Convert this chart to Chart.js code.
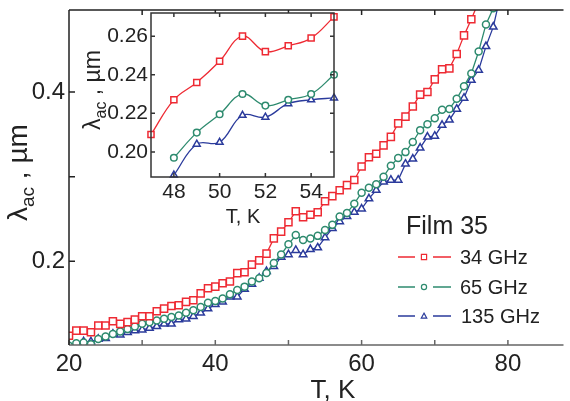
<!DOCTYPE html>
<html>
<head>
<meta charset="utf-8">
<script src="https://cdn.jsdelivr.net/npm/chart.js@4.4.0/dist/chart.umd.min.js"></script>
<style>
  html, body { margin: 0; padding: 0; background: #fff; }
  #wrap { position: relative; width: 570px; height: 401px; overflow: hidden; }
  #mainChart { position: absolute; left: 0; top: 0; }
  #insetChart { position: absolute; left: 60px; top: 0; }
</style>
</head>
<body>
<div id="wrap">
  <canvas id="mainChart" width="570" height="401"></canvas>
  <canvas id="insetChart" width="290" height="235"></canvas>
</div>
<script>
// ---- data ----
const temps = [20, 21, 22, 23, 24, 25, 26, 27, 28, 29, 30, 31, 32, 33, 34, 35, 36, 37, 38, 39,
               40, 41, 42, 43, 44, 45, 46, 47, 48, 49, 50, 51, 52, 53, 54, 55, 56, 57, 58, 59,
               60, 61, 62, 63, 64, 65, 66, 67, 68, 69, 70, 71, 72, 73, 74, 75, 76, 77, 78, 79];

// 34 GHz, T = 20..76
const red34 = [0.112, 0.118, 0.118, 0.116, 0.124, 0.124, 0.129, 0.126, 0.128, 0.131,
               0.135, 0.135, 0.141, 0.144, 0.147, 0.148, 0.152, 0.154, 0.162, 0.168,
               0.170, 0.174, 0.176, 0.186, 0.187, 0.196, 0.201, 0.209, 0.227, 0.235,
               0.246, 0.259, 0.252, 0.255, 0.258, 0.271, 0.277, 0.284, 0.290, 0.296,
               0.312, 0.323, 0.327, 0.337, 0.347, 0.363, 0.371, 0.383, 0.397, 0.400,
               0.415, 0.427, 0.428, 0.445, 0.467, 0.486, 0.507];

// 65 GHz, T = 20..78
const green65 = [0.100, 0.103, 0.104, 0.102, 0.108, 0.111, 0.114, 0.117, 0.120, 0.123,
                 0.126, 0.128, 0.130, 0.132, 0.134, 0.136, 0.139, 0.142, 0.146, 0.151,
                 0.153, 0.156, 0.161, 0.166, 0.170, 0.176, 0.180, 0.186, 0.198, 0.208,
                 0.220, 0.231, 0.225, 0.227, 0.230, 0.237, 0.243, 0.253, 0.257, 0.268,
                 0.281, 0.287, 0.291, 0.300, 0.313, 0.322, 0.329, 0.341, 0.355, 0.362,
                 0.369, 0.379, 0.380, 0.392, 0.407, 0.422, 0.448, 0.480, 0.499];

// 135 GHz, T = 20..79
const blue135 = [0.099, 0.101, 0.105, 0.105, 0.108, 0.109, 0.114, 0.113, 0.116, 0.118,
                 0.119, 0.121, 0.123, 0.126, 0.126, 0.131, 0.132, 0.135, 0.139, 0.144,
                 0.149, 0.152, 0.158, 0.158, 0.167, 0.173, 0.180, 0.188, 0.194, 0.205,
                 0.208, 0.213, 0.208, 0.214, 0.216, 0.228, 0.239, 0.247, 0.253, 0.258,
                 0.262, 0.274, 0.284, 0.294, 0.296, 0.296, 0.315, 0.321, 0.334, 0.347,
                 0.348, 0.361, 0.367, 0.380, 0.393, 0.414, 0.426, 0.454, 0.477, 0.515];

// inset (zoom on 47..55 K)
const insetTempsRed = [47, 48, 49, 50, 51, 52, 53, 54, 55];
const insetTemps = [48, 49, 50, 51, 52, 53, 54, 55];
const insetRed = [0.209, 0.227, 0.236, 0.247, 0.260, 0.252, 0.255, 0.259, 0.270];
const insetGreen = [0.197, 0.210, 0.2195, 0.230, 0.224, 0.227, 0.230, 0.240];
const insetBlue = [0.188, 0.204, 0.205, 0.219, 0.218, 0.225, 0.227, 0.228];

const seriesLabels = ['34 GHz', '65 GHz', '135 GHz'];
const legendTitle = 'Film 35';

const xTicks = [20, 30, 40, 50, 60, 70, 80];
const xLabels = [20, 40, 60, 80];
const yTicks = [0.2, 0.3, 0.4];
const yLabels = [0.2, 0.4];
const insetXTicks = [48, 50, 52, 54];
const insetYTicks = [0.20, 0.22, 0.24, 0.26];

const RED = '#ee2a33';
const GREEN = '#2e8b6f';
const BLUE = '#2b3b9c';
const INK = '#222';
const FONT = '"Liberation Sans", Arial, Helvetica, sans-serif';

function toPoints(ts, vals) {
  return vals.map((v, i) => ({ x: ts[i], y: v }));
}

function series(label, ts, vals, color, style, r, extra) {
  return Object.assign({
    label: label,
    data: toPoints(ts, vals),
    borderColor: color,
    backgroundColor: '#fff',
    borderWidth: 1.3,
    pointStyle: style,
    pointRadius: r,
    pointBorderColor: color,
    pointBackgroundColor: '#fff',
    pointBorderWidth: 1.5,
    tension: 0
  }, extra || {});
}

// keep the plot box where we put it (no room reserved for half labels)
function noPad(s) {
  s.paddingTop = 0; s.paddingBottom = 0;
  s.paddingLeft = 0; s.paddingRight = 0;
}

function drawMarker(ctx, style, x, y, r, color) {
  ctx.save();
  ctx.strokeStyle = color;
  ctx.fillStyle = '#fff';
  ctx.lineWidth = 1.2;
  ctx.beginPath();
  if (style === 'rect') {
    ctx.rect(x - r, y - r, 2 * r, 2 * r);
  } else if (style === 'circle') {
    ctx.arc(x, y, r, 0, Math.PI * 2);
  } else {
    ctx.moveTo(x, y - r * 1.1);
    ctx.lineTo(x + r * 1.05, y + r * 0.8);
    ctx.lineTo(x - r * 1.05, y + r * 0.8);
    ctx.closePath();
  }
  ctx.fill();
  ctx.stroke();
  ctx.restore();
}

// rotated "λac , µm" title, (x, y) = start of baseline
function drawLambdaTitle(ctx, x, y, size) {
  ctx.save();
  ctx.translate(x, y);
  ctx.rotate(-Math.PI / 2);
  ctx.fillStyle = INK;
  ctx.textBaseline = 'alphabetic';
  ctx.textAlign = 'left';
  let cx = 0;
  ctx.font = size + 'px ' + FONT;
  ctx.fillText('λ', cx, 0);
  cx += ctx.measureText('λ').width;
  const sub = Math.round(size * 0.68);
  ctx.font = sub + 'px ' + FONT;
  ctx.fillText('ac', cx, size * 0.24);
  cx += ctx.measureText('ac').width;
  ctx.font = size + 'px ' + FONT;
  ctx.fillText(' , µm', cx, 0);
  ctx.restore();
}

const styles = ['rect', 'circle', 'triangle'];
const colors = [RED, GREEN, BLUE];

const mainFrame = {
  id: 'mainFrame',
  afterDraw(chart) {
    const ctx = chart.ctx;
    const a = chart.chartArea;
    const x = chart.scales.x, y = chart.scales.y;
    ctx.save();
    ctx.lineWidth = 1.5;
    // bottom axis is a lighter grey in the figure
    ctx.strokeStyle = '#666';
    ctx.beginPath();
    ctx.moveTo(a.left, a.bottom); ctx.lineTo(a.right, a.bottom);
    xTicks.forEach(v => {
      const px = x.getPixelForValue(v);
      ctx.moveTo(px, a.bottom); ctx.lineTo(px, a.bottom - 5);
    });
    ctx.stroke();
    ctx.strokeStyle = '#222';
    ctx.beginPath();
    ctx.moveTo(a.left, a.top); ctx.lineTo(a.left, a.bottom);
    ctx.moveTo(a.left, a.top); ctx.lineTo(a.right, a.top);
    xTicks.forEach(v => {
      const px = x.getPixelForValue(v);
      ctx.moveTo(px, a.top); ctx.lineTo(px, a.top + 5);
    });
    yTicks.forEach(v => {
      const py = y.getPixelForValue(v);
      ctx.moveTo(a.left, py); ctx.lineTo(a.left + 6, py);
    });
    ctx.stroke();

    // axis titles
    ctx.fillStyle = INK;
    ctx.font = '26px ' + FONT;
    ctx.textAlign = 'center';
    ctx.textBaseline = 'alphabetic';
    ctx.fillText('T, K', 333, 398);
    drawLambdaTitle(ctx, 27, 221, 28);

    // legend
    ctx.textAlign = 'left';
    ctx.textBaseline = 'middle';
    ctx.font = '25px ' + FONT;
    ctx.fillText(legendTitle, 406, 227);
    ctx.font = '20px ' + FONT;
    const rows = [257, 287, 316];
    seriesLabels.forEach((lab, i) => {
      const ry = rows[i];
      ctx.strokeStyle = colors[i];
      ctx.lineWidth = 1.3;
      ctx.beginPath();
      ctx.moveTo(398, ry); ctx.lineTo(415, ry);
      ctx.moveTo(433, ry); ctx.lineTo(451, ry);
      ctx.stroke();
      drawMarker(ctx, styles[i], 424, ry, 2.6, colors[i]);
      ctx.fillStyle = INK;
      ctx.fillText(lab, i === 2 ? 461 : 460, ry + 1);
    });
    ctx.restore();
  }
};

const insetFrame = {
  id: 'insetFrame',
  beforeDatasetsDraw(chart) {
    const a = chart.chartArea;
    chart.ctx.save();
    chart.ctx.fillStyle = '#fff';
    chart.ctx.fillRect(a.left, a.top, a.right - a.left, a.bottom - a.top);
    chart.ctx.restore();
  },
  afterDraw(chart) {
    const ctx = chart.ctx;
    const a = chart.chartArea;
    const x = chart.scales.x, y = chart.scales.y;
    ctx.save();
    ctx.strokeStyle = '#333';
    ctx.lineWidth = 1.5;
    ctx.strokeRect(a.left, a.top, a.right - a.left, a.bottom - a.top);
    ctx.beginPath();
    insetXTicks.forEach(v => {
      const px = x.getPixelForValue(v);
      ctx.moveTo(px, a.bottom); ctx.lineTo(px, a.bottom - 4);
      ctx.moveTo(px, a.top); ctx.lineTo(px, a.top + 4);
    });
    insetYTicks.forEach(v => {
      const py = y.getPixelForValue(v);
      ctx.moveTo(a.left, py); ctx.lineTo(a.left + 4, py);
      ctx.moveTo(a.right, py); ctx.lineTo(a.right - 4, py);
    });
    ctx.stroke();
    ctx.fillStyle = INK;
    ctx.font = '20px ' + FONT;
    ctx.textAlign = 'center';
    ctx.textBaseline = 'alphabetic';
    ctx.fillText('T, K', 183, 223);
    drawLambdaTitle(ctx, 40, 130, 23);
    ctx.restore();
  }
};

new Chart(document.getElementById('mainChart'), {
  type: 'line',
  data: {
    datasets: [
      series(seriesLabels[0], temps, red34, RED, 'rect', 5),
      series(seriesLabels[1], temps, green65, GREEN, 'circle', 3.5),
      series(seriesLabels[2], temps, blue135, BLUE, 'triangle', 4.3)
    ]
  },
  options: {
    responsive: false,
    animation: false,
    events: [],
    layout: { padding: { top: 10, right: 0, left: 0, bottom: 0 } },
    plugins: { legend: { display: false }, tooltip: { enabled: false } },
    scales: {
      x: {
        type: 'linear', min: 20, max: 87.6,
        afterBuildTicks: s => { s.ticks = xTicks.map(v => ({ value: v })); },
        afterFit: s => { s.height = 56; noPad(s); },
        grid: { display: false, drawTicks: false },
        border: { display: false },
        ticks: {
          autoSkip: false, maxRotation: 0, padding: 5, color: INK,
          font: { family: FONT, size: 24 },
          callback: v => xLabels.includes(v) ? String(v) : ''
        }
      },
      y: {
        type: 'linear', min: 0.101, max: 0.497,
        afterBuildTicks: s => { s.ticks = yTicks.map(v => ({ value: v })); },
        afterFit: s => { s.width = 69; noPad(s); },
        grid: { display: false, drawTicks: false },
        border: { display: false },
        ticks: {
          autoSkip: false, padding: 4, color: INK,
          font: { family: FONT, size: 24 },
          callback: v => yLabels.includes(v) ? v.toFixed(1) : ''
        }
      }
    }
  },
  plugins: [mainFrame]
});

new Chart(document.getElementById('insetChart'), {
  type: 'line',
  data: {
    datasets: [
      series(seriesLabels[0], insetTempsRed, insetRed, RED, 'rect', 4.3, { tension: 0.4, clip: false }),
      series(seriesLabels[1], insetTemps, insetGreen, GREEN, 'circle', 3.3, { tension: 0.4, clip: false }),
      series(seriesLabels[2], insetTemps, insetBlue, BLUE, 'triangle', 4, { tension: 0.4, clip: false })
    ]
  },
  options: {
    responsive: false,
    animation: false,
    events: [],
    layout: { padding: { top: 13, right: 16, left: 0, bottom: 0 } },
    plugins: { legend: { display: false }, tooltip: { enabled: false } },
    scales: {
      x: {
        type: 'linear', min: 47, max: 55,
        afterBuildTicks: s => { s.ticks = insetXTicks.map(v => ({ value: v })); },
        afterFit: s => { s.height = 58; noPad(s); },
        grid: { display: false, drawTicks: false },
        border: { display: false },
        ticks: {
          autoSkip: false, maxRotation: 0, padding: 3, color: INK,
          font: { family: FONT, size: 21 },
          callback: v => String(v)
        }
      },
      y: {
        type: 'linear', min: 0.187, max: 0.272,
        afterBuildTicks: s => { s.ticks = insetYTicks.map(v => ({ value: v })); },
        afterFit: s => { s.width = 91; noPad(s); },
        grid: { display: false, drawTicks: false },
        border: { display: false },
        ticks: {
          autoSkip: false, padding: 3, color: INK,
          font: { family: FONT, size: 21 },
          callback: v => v.toFixed(2)
        }
      }
    }
  },
  plugins: [insetFrame]
});
</script>
</body>
</html>
